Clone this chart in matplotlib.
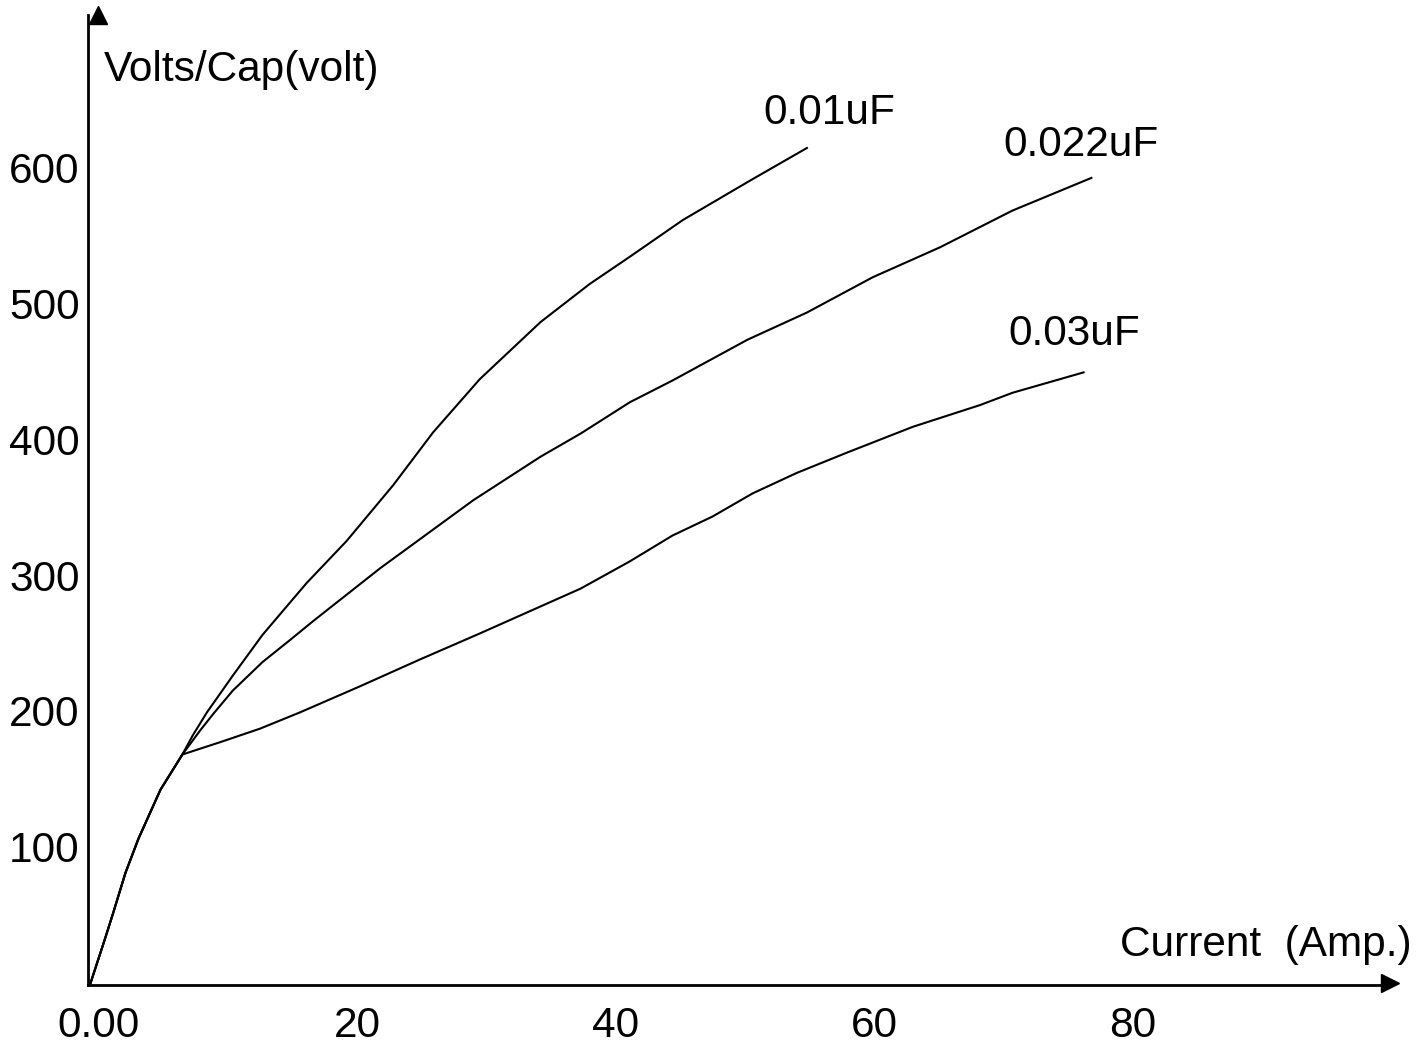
import matplotlib.pyplot as plt

# ------------------------------------------------------------------
# DATA (current in A, volts per capacitor in V)
# ------------------------------------------------------------------
# common part of the three curves, up to the branching point
base_current = [-0.6, 0.5, 1.1, 2.1, 3.1, 4.8, 6.5]
base_volts = [0, 32, 50, 81, 106, 142, 168]

# 0.01 uF branch
c01_current = [7.3, 8.4, 10.4, 12.7, 16.1, 19.2, 22.8, 25.9, 29.5, 34.2, 38.0, 41.1, 45.2, 50.4, 54.8]
c01_volts = [182, 199, 226, 256, 294, 325, 366, 405, 444, 486, 514, 534, 561, 590, 614]

# 0.022 uF branch
c022_current = [7.9, 8.9, 10.4, 12.7, 14.8, 16.6, 21.8, 29.0, 34.2, 37.3, 41.1, 44.4, 50.2, 54.8, 59.9, 65.1, 70.7, 76.8]
c022_volts = [186, 198, 215, 236, 252, 266, 305, 355, 387, 404, 427, 443, 473, 493, 519, 541, 568, 592]

# 0.03 uF branch
c03_current = [9.4, 12.5, 15.6, 20.2, 24.9, 29.5, 37.3, 41.1, 44.4, 47.5, 50.6, 54.0, 57.9, 63.0, 68.2, 70.7, 76.2]
c03_volts = [177, 187, 199, 218, 238, 257, 290, 310, 329, 343, 360, 375, 390, 409, 425, 434, 449]

curve_names = ["0.01uF", "0.022uF", "0.03uF"]
x_ticks = [0, 20, 40, 60, 80]
x_tick_labels = ["0.00", "20", "40", "60", "80"]
y_ticks = [100, 200, 300, 400, 500, 600]

plt.rcParams['font.family'] = ['Liberation Sans', 'DejaVu Sans']
FS = 30.5

# ------------------------------------------------------------------
# FIGURE
# ------------------------------------------------------------------
fig = plt.figure(figsize=(14.19, 10.49), dpi=100)
ax = fig.add_axes([0.062, 0.061, 0.9176, 0.9247])

branches = [(c01_current, c01_volts), (c022_current, c022_volts), (c03_current, c03_volts)]
for xs, ys in branches:
    ax.plot(base_current + xs, base_volts + ys, color='black', linewidth=1.5,
            solid_joinstyle='round')

ax.set_xlim(-0.8, 99.9)
ax.set_ylim(-1.5, 711.8)

# only the two axis lines, with arrow heads
for side in ['top', 'right']:
    ax.spines[side].set_visible(False)
for side in ['left', 'bottom']:
    ax.spines[side].set_linewidth(2)
ax.plot(1, 0, marker='>', color='black', markersize=13, transform=ax.get_yaxis_transform(), clip_on=False)
ax.plot(0, 1, marker='^', color='black', markersize=13, transform=ax.get_xaxis_transform(), clip_on=False)

ax.set_xticks(x_ticks)
ax.set_xticklabels(x_tick_labels)
ax.set_yticks(y_ticks)
ax.tick_params(axis='both', length=0, labelsize=FS)
ax.tick_params(axis='x', pad=15)
ax.tick_params(axis='y', pad=6)

# axis titles written inside the plot area as in the original drawing
ax.text(0.4, 671, "Volts/Cap(volt)", fontsize=FS, ha='left', va='center')
ax.text(90.3, 28, "Current  (Amp.)", fontsize=FS, ha='center', va='center')

# curve labels
ax.text(56.5, 640, curve_names[0], fontsize=FS, ha='center', va='center')
ax.text(76.0, 616, curve_names[1], fontsize=FS, ha='center', va='center')
ax.text(75.5, 477, curve_names[2], fontsize=FS, ha='center', va='center')

fig.savefig('out.png', dpi=100)
